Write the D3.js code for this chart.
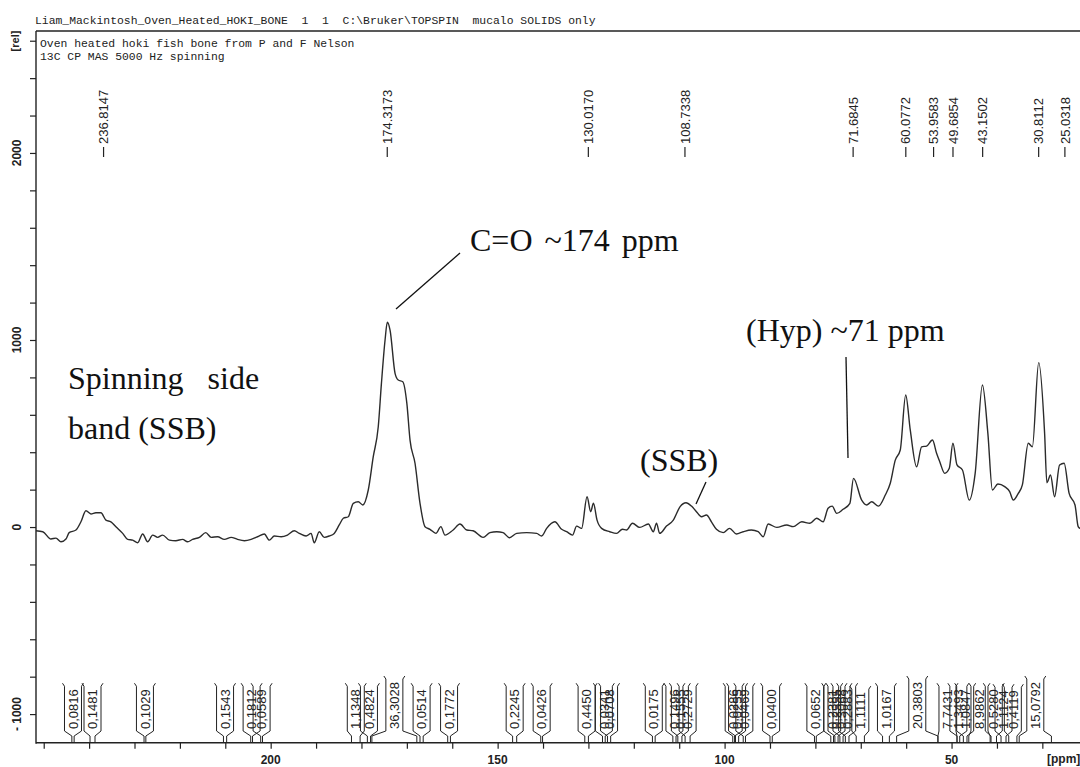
<!DOCTYPE html>
<html>
<head>
<meta charset="utf-8">
<script src="https://cdn.jsdelivr.net/npm/d3@7"></script>
<style>
  html, body { margin: 0; padding: 0; background: #fff; }
  svg { display: block; }
</style>
</head>
<body>
<svg id="chart" width="1080" height="767"></svg>
<script>
// 13C CP MAS spectrum of oven-heated hoki fish bone (chemical shift in ppm, relative intensity)
const shiftPpm = [
  251.7, 250.2, 248.4, 247.3, 246.2, 245.1, 244.4, 242.9, 241.8, 240.7, 239.6, 238.5, 237.4, 236.3, 235.2, 234.1,
  232.6, 231.5, 230.4, 229.3, 228.2, 227.1, 226.0, 224.9, 223.8, 222.3, 220.9, 219.4, 218.3, 217.2, 215.7, 214.3,
  213.1, 211.7, 210.2, 208.7, 207.3, 205.8, 204.3, 202.9, 201.4, 200.3, 199.2, 197.7, 196.3, 194.8, 193.7, 192.2,
  191.1, 190.4, 189.3, 188.2, 187.1, 186.0, 184.9, 184.0, 182.9, 181.8, 180.7, 179.7, 178.5, 177.4, 176.3, 175.6,
  174.8, 174.3, 173.7, 172.6, 171.9, 170.9, 170.0, 169.3, 168.2, 167.1, 166.0, 164.9, 163.6, 162.5, 161.6, 159.8,
  158.3, 156.8, 155.4, 153.2, 151.7, 150.2, 148.8, 147.4, 145.8, 143.6, 141.4, 140.3, 139.2, 137.4, 135.9, 134.8,
  133.5, 132.6, 131.5, 130.3, 129.5, 128.9, 128.1, 127.1, 125.3, 123.8, 122.5, 121.6, 120.3, 118.7, 116.8, 115.7,
  115.0, 114.3, 112.8, 111.3, 109.8, 108.5, 107.3, 106.2, 105.1, 104.0, 102.9, 101.8, 100.3, 98.9, 97.4, 95.9,
  94.1, 92.6, 91.5, 90.4, 88.5, 86.3, 84.9, 83.0, 81.2, 79.7, 78.3, 77.2, 76.3, 75.3, 73.9, 72.4,
  71.6, 69.8, 68.7, 67.6, 66.1, 64.6, 63.5, 62.4, 61.3, 60.1, 59.1, 57.7, 56.6, 55.5, 54.2, 53.3,
  52.6, 51.5, 50.5, 49.7, 48.8, 47.6, 46.1, 44.8, 43.2, 42.0, 41.0, 39.8, 38.3, 37.2, 36.4, 35.3,
  34.4, 33.1, 32.2, 30.8, 29.5, 29.0, 28.2, 27.3, 26.2, 25.2, 24.1, 22.8, 22.1, 21.7, 19.5
];
const intensity = [
  -20, -25, -64, -59, -79, -64, -30, -16, 28, 87, 70, 76, 76, 37, 28, 2,
  -34, -66, -70, -84, -37, -79, -43, -55, -43, -70, -73, -66, -79, -66, -55, -30,
  -55, -52, -66, -55, -66, -73, -66, -52, -37, -70, -48, -52, -43, -20, -34, -48,
  -34, -84, -25, -55, -48, -34, 11, 47, 55, 127, 135, 118, 198, 376, 536, 768,
  1000, 1095, 1053, 822, 786, 777, 661, 465, 341, 127, 2, -12, -34, 2, -43, -16,
  16, -16, -20, -55, -30, -25, -30, -57, -34, -30, -34, -48, -7, 28, -12, -25,
  -43, 5, -7, 162, 82, 127, 37, -7, -25, -34, -12, -16, 20, -2, 16, -25,
  20, -34, 5, 37, 109, 130, 112, 82, 55, 64, 28, -12, -30, -7, -37, -25,
  -16, -25, -52, 16, -2, 11, 2, 28, 20, 47, 28, 100, 112, 73, 95, 127,
  260, 144, 118, 135, 112, 171, 234, 358, 412, 706, 519, 322, 429, 433, 465, 394,
  349, 287, 314, 448, 332, 305, 144, 287, 759, 501, 198, 230, 216, 189, 144, 180,
  225, 448, 429, 879, 501, 237, 278, 162, 332, 341, 180, 118, 2, -7, -20
];

// Peak picking labels
const peakShifts = [236.8147, 174.3173, 130.0170, 108.7338, 71.6845, 60.0772, 53.9583, 49.6854, 43.1502, 30.8112, 25.0318];
const peakLabels = ["236.8147", "174.3173", "130.0170", "108.7338", "71.6845", "60.0772", "53.9583", "49.6854", "43.1502", "30.8112", "25.0318"];

// Integral regions (start / end shift in ppm) and their integrals
const integralStart = [243.8, 239.8, 227.9, 210.4, 204.4, 202.2, 182.2, 178.7, 177.7, 167.1, 161.0, 146.7, 140.5, 130.8, 126.9, 125.8,
  115.9, 111.4, 110.3, 108.7, 98.2, 97.6, 95.9, 90.0, 80.2, 76.6, 75.7, 74.6, 73.4, 71.0, 65.2, 62.1,
  53.0, 48.8, 47.4, 46.2, 41.3, 39.1, 37.4, 35.1];
const integralEnd = [243.3, 238.7, 227.5, 209.7, 204.0, 201.8, 180.3, 178.0, 167.8, 166.4, 160.4, 145.8, 140.1, 130.0, 126.3, 125.1,
  115.3, 110.7, 109.4, 107.6, 97.8, 96.9, 95.4, 89.5, 79.8, 76.0, 75.0, 73.9, 72.6, 69.2, 63.7, 53.0,
  48.8, 48.2, 46.6, 41.5, 40.1, 38.0, 35.6, 28.0];
const integralValues = ["0,0816", "0,1481", "0,1029", "0,1543", "0,1812", "0,0589", "1,1348", "0,4824", "36,3028", "0,0514", "0,1772", "0,2245", "0,0426", "0,4450", "0,0341", "0,0708",
  "0,0175", "0,1496", "0,1555", "0,2729", "0,0286", "0,0255", "0,0469", "0,0400", "0,0652", "0,2381", "0,2555", "0,3068", "0,2883", "1,1111", "1,0167", "20,3803",
  "7,7431", "1,3493", "1,0847", "8,9862", "0,5280", "1,1124", "0,4119", "15,0792"];

// Axis ticks
const xTickValues = d3.range(250, 20, -10);
const xTickLabels = [200, 150, 100, 50];
const yTickValues = d3.range(-1000, 2601, 200);
const yTickLabels = [-1000, 0, 1000, 2000];

// Title block
const headerLine = "Liam_Mackintosh_Oven_Heated_HOKI_BONE  1  1  C:\\Bruker\\TOPSPIN  mucalo SOLIDS only";
const titleLines = ["Oven heated hoki fish bone from P and F Nelson", "13C CP MAS 5000 Hz spinning"];

const svg = d3.select("#chart");
const ink = "#222";

const plotL = 36, plotR = 1090, plotT = 31, plotB = 742.7;
const x = d3.scaleLinear().domain([251.7, 19.5]).range([plotL, plotR]);
const y = d3.scaleLinear().domain([-1153, 2652]).range([plotB, plotT]);

// Header text
svg.append("text")
  .attr("x", 35).attr("y", 24)
  .attr("font-family", "Liberation Mono, monospace")
  .attr("font-size", 11.4).attr("fill", ink)
  .style("white-space", "pre")
  .text(headerLine);

titleLines.forEach((t, i) => {
  svg.append("text")
    .attr("x", 40).attr("y", 47 + i * 13)
    .attr("font-family", "Liberation Mono, monospace")
    .attr("font-size", 11.4).attr("fill", ink)
    .style("white-space", "pre")
    .text(t);
});

// Frame top
svg.append("line")
  .attr("x1", plotL).attr("x2", plotR).attr("y1", plotT).attr("y2", plotT)
  .attr("stroke", ink).attr("stroke-width", 1.4);

// Y axis
const yAxis = d3.axisLeft(y).tickValues(yTickValues).tickSize(6).tickSizeOuter(0).tickFormat("");
const gy = svg.append("g").attr("transform", `translate(${plotL},0)`).call(yAxis);
gy.select(".domain").attr("stroke", ink).attr("stroke-width", 1.4).attr("d", `M0,${plotT}V${plotB + 1}`);
gy.selectAll(".tick line").attr("stroke", ink).attr("stroke-width", 1.2);

yTickLabels.forEach(v => {
  svg.append("text")
    .attr("transform", `translate(17,${y(v)}) rotate(-90)`)
    .attr("text-anchor", "middle").attr("dy", "0.35em")
    .attr("font-family", "Liberation Sans, Arial, sans-serif")
    .attr("font-weight", "bold").attr("font-size", 12).attr("fill", ink)
    .style("white-space", "pre")
    .text(v < 0 ? "- " + Math.abs(v) : String(v));
});

svg.append("text")
  .attr("transform", `translate(15,41) rotate(-90)`)
  .attr("text-anchor", "middle").attr("dy", "0.35em")
  .attr("font-family", "Liberation Sans, Arial, sans-serif")
  .attr("font-weight", "bold").attr("font-size", 11).attr("fill", ink)
  .text("[rel]");

// X axis
const xAxis = d3.axisBottom(x).tickValues(xTickValues).tickSize(6).tickSizeOuter(0).tickFormat("");
const gx = svg.append("g").attr("transform", `translate(0,${plotB})`).call(xAxis);
gx.select(".domain").attr("stroke", ink).attr("stroke-width", 1.4).attr("d", `M${plotL},0H${plotR}`);
gx.selectAll(".tick line").attr("stroke", ink).attr("stroke-width", 1.2);

xTickLabels.forEach(v => {
  svg.append("text")
    .attr("x", x(v)).attr("y", 764)
    .attr("text-anchor", "middle")
    .attr("font-family", "Liberation Sans, Arial, sans-serif")
    .attr("font-weight", "bold").attr("font-size", 12).attr("fill", ink)
    .text(v);
});
svg.append("text")
  .attr("x", 1047).attr("y", 763)
  .attr("font-family", "Liberation Sans, Arial, sans-serif")
  .attr("font-weight", "bold").attr("font-size", 12).attr("fill", ink)
  .text("[ppm]");

// Spectrum trace
const points = shiftPpm.map((p, i) => [p, intensity[i]]);
const line = d3.line().x(d => x(d[0])).y(d => y(d[1])).curve(d3.curveMonotoneX);
svg.append("path")
  .datum(points.slice().reverse())
  .attr("d", line)
  .attr("fill", "none").attr("stroke", "#2b2b2b").attr("stroke-width", 1.4)
  .attr("stroke-linejoin", "round");

// Peak labels
peakShifts.forEach((p, i) => {
  const px = x(p);
  svg.append("line")
    .attr("x1", px).attr("x2", px).attr("y1", 147).attr("y2", 157)
    .attr("stroke", ink).attr("stroke-width", 1.2);
  svg.append("text")
    .attr("transform", `translate(${px},144) rotate(-90)`)
    .attr("dy", "0.36em")
    .attr("font-family", "Liberation Sans, Arial, sans-serif")
    .attr("font-size", 13).attr("fill", ink)
    .text(peakLabels[i]);
});

// Integral brackets
const gInt = svg.append("g");
const textBottom = 729, halfW = 8.5;
integralValues.forEach((val, i) => {
  const xs = x(integralStart[i]), xe = x(integralEnd[i]);
  const cx = (xs + xe) / 2;
  const t = gInt.append("text")
    .attr("transform", `translate(${cx},${textBottom}) rotate(-90)`)
    .attr("dy", "0.36em")
    .attr("font-family", "Liberation Sans, Arial, sans-serif")
    .attr("font-size", 13).attr("fill", ink)
    .text(val);
  const len = t.node().getComputedTextLength();
  const tp = textBottom - len - 3;
  const path = `M${cx - halfW - 2},${tp - 3}L${cx - halfW},${tp}L${cx - halfW},${textBottom + 2}L${xs},${textBottom + 7}L${xs},${plotB}` +
               `M${cx + halfW + 2},${tp - 3}L${cx + halfW},${tp}L${cx + halfW},${textBottom + 2}L${xe},${textBottom + 7}L${xe},${plotB}`;
  gInt.append("path").attr("d", path).attr("fill", "none").attr("stroke", ink).attr("stroke-width", 1);
});

// Annotations
const serif = "Liberation Serif, Times New Roman, serif";
const notes = [
  { t: "C=O ~174 ppm", x: 470, y: 251, ws: 4 },
  { t: "(Hyp) ~71 ppm", x: 746, y: 341, ws: 0 },
  { t: "Spinning side", x: 68, y: 389, ws: 16 },
  { t: "band (SSB)", x: 68, y: 439, ws: 0 },
  { t: "(SSB)", x: 640, y: 471, ws: 0 }
];
notes.forEach(n => {
  svg.append("text").attr("x", n.x).attr("y", n.y)
    .attr("font-family", serif).attr("font-size", 32).attr("fill", "#111")
    .attr("word-spacing", n.ws)
    .text(n.t);
});
const leaders = [
  [460, 253, 396, 309],
  [846, 357, 848, 458],
  [706, 482, 696, 504]
];
leaders.forEach(l => {
  svg.append("line").attr("x1", l[0]).attr("y1", l[1]).attr("x2", l[2]).attr("y2", l[3])
    .attr("stroke", "#111").attr("stroke-width", 1.3);
});
</script>
</body>
</html>
